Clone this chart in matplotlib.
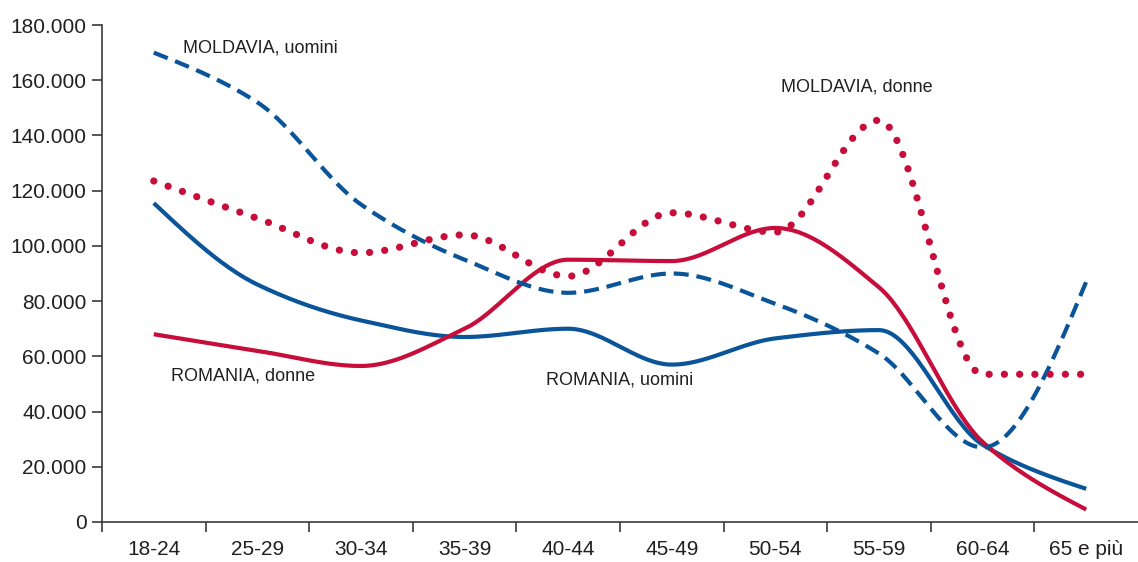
import numpy as np
import matplotlib.pyplot as plt

# Fasce di età
categories = ['18-24', '25-29', '30-34', '35-39', '40-44', '45-49',
              '50-54', '55-59', '60-64', '65 e più']

# Valori
romania_uomini = [115500, 86000, 73000, 67000, 70000, 57000, 66500, 69500, 28000, 12000]
romania_donne = [68000, 62000, 56500, 70000, 95000, 94500, 106500, 85000, 29000, 4500]
moldavia_uomini = [170000, 152000, 115000, 95000, 83000, 90000, 79000, 61000, 27000, 87000]
moldavia_donne = [123500, 110000, 97500, 104000, 89000, 112000, 105000, 145500, 53500, 53500]

y_ticks = [0, 20000, 40000, 60000, 80000, 100000, 120000, 140000, 160000, 180000]
y_labels = ['0', '20.000', '40.000', '60.000', '80.000', '100.000',
            '120.000', '140.000', '160.000', '180.000']

BLUE = '#0a5499'
RED = '#c70d3a'
TEXT = '#231f20'

plt.rcParams['font.family'] = ['Liberation Sans', 'DejaVu Sans']


def smooth(y, n=40):
    # curva cubica monotona (Fritsch-Carlson) per disegnare la linea fra i punti letti
    y = np.asarray(y, dtype=float)
    m = len(y)
    d = np.diff(y)
    s = np.zeros(m)
    for k in range(1, m - 1):
        if d[k - 1] * d[k] > 0:
            s[k] = 2.0 / (1.0 / d[k - 1] + 1.0 / d[k])
    s[0] = (3 * d[0] - s[1]) / 2
    if s[0] * d[0] <= 0:
        s[0] = 0
    s[-1] = (3 * d[-1] - s[-2]) / 2
    if s[-1] * d[-1] <= 0:
        s[-1] = 0
    xs, ys = [], []
    t = np.linspace(0, 1, n, endpoint=False)
    for k in range(m - 1):
        h00 = 2 * t ** 3 - 3 * t ** 2 + 1
        h10 = t ** 3 - 2 * t ** 2 + t
        h01 = -2 * t ** 3 + 3 * t ** 2
        h11 = t ** 3 - t ** 2
        xs.append(k + t)
        ys.append(h00 * y[k] + h10 * s[k] + h01 * y[k + 1] + h11 * s[k + 1])
    xs.append([m - 1])
    ys.append([y[-1]])
    return np.concatenate(xs), np.concatenate(ys)


fig = plt.figure(figsize=(11.38, 5.62), dpi=100)
ax = fig.add_axes([0.0896, 0.0712, 0.9104, 0.8843])

x, y = smooth(romania_uomini)
ax.plot(x, y, color=BLUE, lw=3.0, solid_capstyle='butt')
x, y = smooth(romania_donne)
ax.plot(x, y, color=RED, lw=3.0, solid_capstyle='butt')
x, y = smooth(moldavia_uomini)
ax.plot(x, y, color=BLUE, lw=3.0, dashes=(3.6, 1.9), dash_capstyle='butt')
x, y = smooth(moldavia_donne)
ax.plot(x, y, color=RED, lw=5.2, dashes=(0.01, 2.1), dash_capstyle='round')

ax.text(0.28, 171700, 'MOLDAVIA, uomini', fontsize=13, color=TEXT, va='center')
ax.text(6.05, 157500, 'MOLDAVIA, donne', fontsize=13, color=TEXT, va='center')
ax.text(0.17, 52900, 'ROMANIA, donne', fontsize=13, color=TEXT, va='center')
ax.text(3.79, 51400, 'ROMANIA, uomini', fontsize=13, color=TEXT, va='center')

ax.set_xlim(-0.5, 9.5)
ax.set_ylim(0, 180000)
ax.set_yticks(y_ticks)
ax.set_yticklabels(y_labels, fontsize=15, color=TEXT)
ax.set_xticks(np.arange(len(categories)))
ax.set_xticklabels(categories, fontsize=15, color=TEXT)
ax.tick_params(axis='x', length=0, pad=13)
ax.set_xticks(np.arange(len(categories)) - 0.5, minor=True)
ax.tick_params(axis='x', which='minor', length=7.5, width=1.2, color='#3a3a3a')
ax.tick_params(axis='y', length=7, width=1.2, color='#3a3a3a', pad=4)

for s in ['top', 'right']:
    ax.spines[s].set_visible(False)
for s in ['left', 'bottom']:
    ax.spines[s].set_color('#3a3a3a')
    ax.spines[s].set_linewidth(1.2)

fig.savefig('out.png', dpi=100)
